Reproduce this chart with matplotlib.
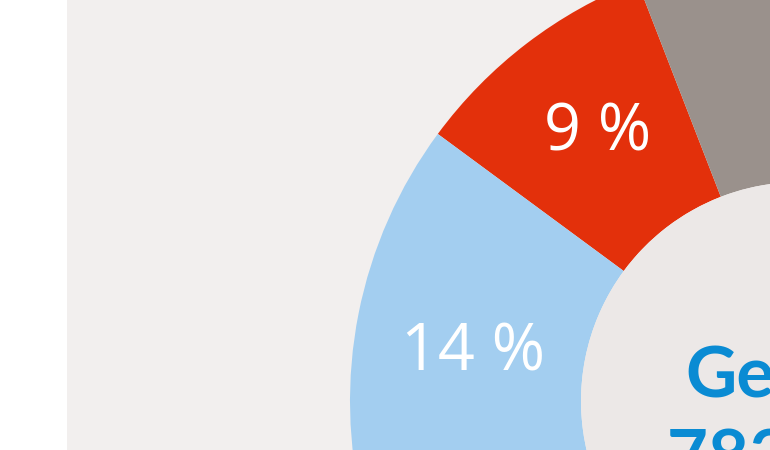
import numpy as np
import matplotlib.pyplot as plt
from matplotlib.patches import Circle
from matplotlib import font_manager

# shares of the donut, counter-clockwise starting at the red slice
labels = ["Rot", "Hellblau", "Übrige", "Grau"]
shares = [9, 14, 60, 17]
colors = ["#e3300b", "#a3cef0", "#0a8bd3", "#9a918c"]
shown = ["Rot", "Hellblau"]

center_title = "Gesamt"
center_value = "783 Mio."

BG = "#f2efee"
INNER = "#ece8e7"
TEXT_BLUE = "#0a8bd3"

W, H = 770, 450
CX, CY = 800, H - 401
R_OUT, R_IN = 450, 219
START = 111.2

names = sorted({f.name for f in font_manager.fontManager.ttflist})
print([n for n in names if "ond" in n or "arrow" in n])


def pct_label(p):
    return f"{p:.0f} %"


fig = plt.figure(figsize=(7.7, 4.5), dpi=100, facecolor="white")
ax = fig.add_axes([67 / W, 0, 1 - 67 / W, 1])
ax.set_facecolor(BG)

wedges, texts, autotexts = ax.pie(
    shares,
    colors=colors,
    startangle=START,
    counterclock=True,
    center=(CX, CY),
    radius=R_OUT,
    wedgeprops=dict(width=R_OUT - R_IN, linewidth=0),
    autopct=pct_label,
    pctdistance=0.745,
    frame=True,
    textprops=dict(color="white", fontsize=46.5, family="Open Sans"),
)

# labels sit a little off the slice middle in the original
nudge = {"Rot": (-1.0, 339), "Hellblau": (2.0, 330)}
angle = START
for name, share, t in zip(labels, shares, autotexts):
    mid = angle + share * 3.6 / 2
    angle += share * 3.6
    if name not in shown:
        t.set_visible(False)
        continue
    da, r = nudge[name]
    a = np.radians(mid + da)
    t.set_position((CX + r * np.cos(a) - 1, CY + r * np.sin(a) - 5))

ax.add_patch(Circle((CX, CY), R_IN, facecolor=INNER, edgecolor="none"))

title_font = dict(color=TEXT_BLUE, fontsize=51, weight="bold",
                  family=["DejaVu Sans Condensed", "Lato"])
ax.text(685, CY + 3, center_title, ha="left", va="baseline", **title_font)
ax.text(667, CY - 79, center_value, ha="left", va="baseline", **title_font)

ax.set_xlim(67, W)
ax.set_ylim(0, H)
ax.set_aspect("auto")
ax.set_xticks([])
ax.set_yticks([])
for s in ax.spines.values():
    s.set_visible(False)

fig.savefig("out.png", dpi=100, facecolor="white")
